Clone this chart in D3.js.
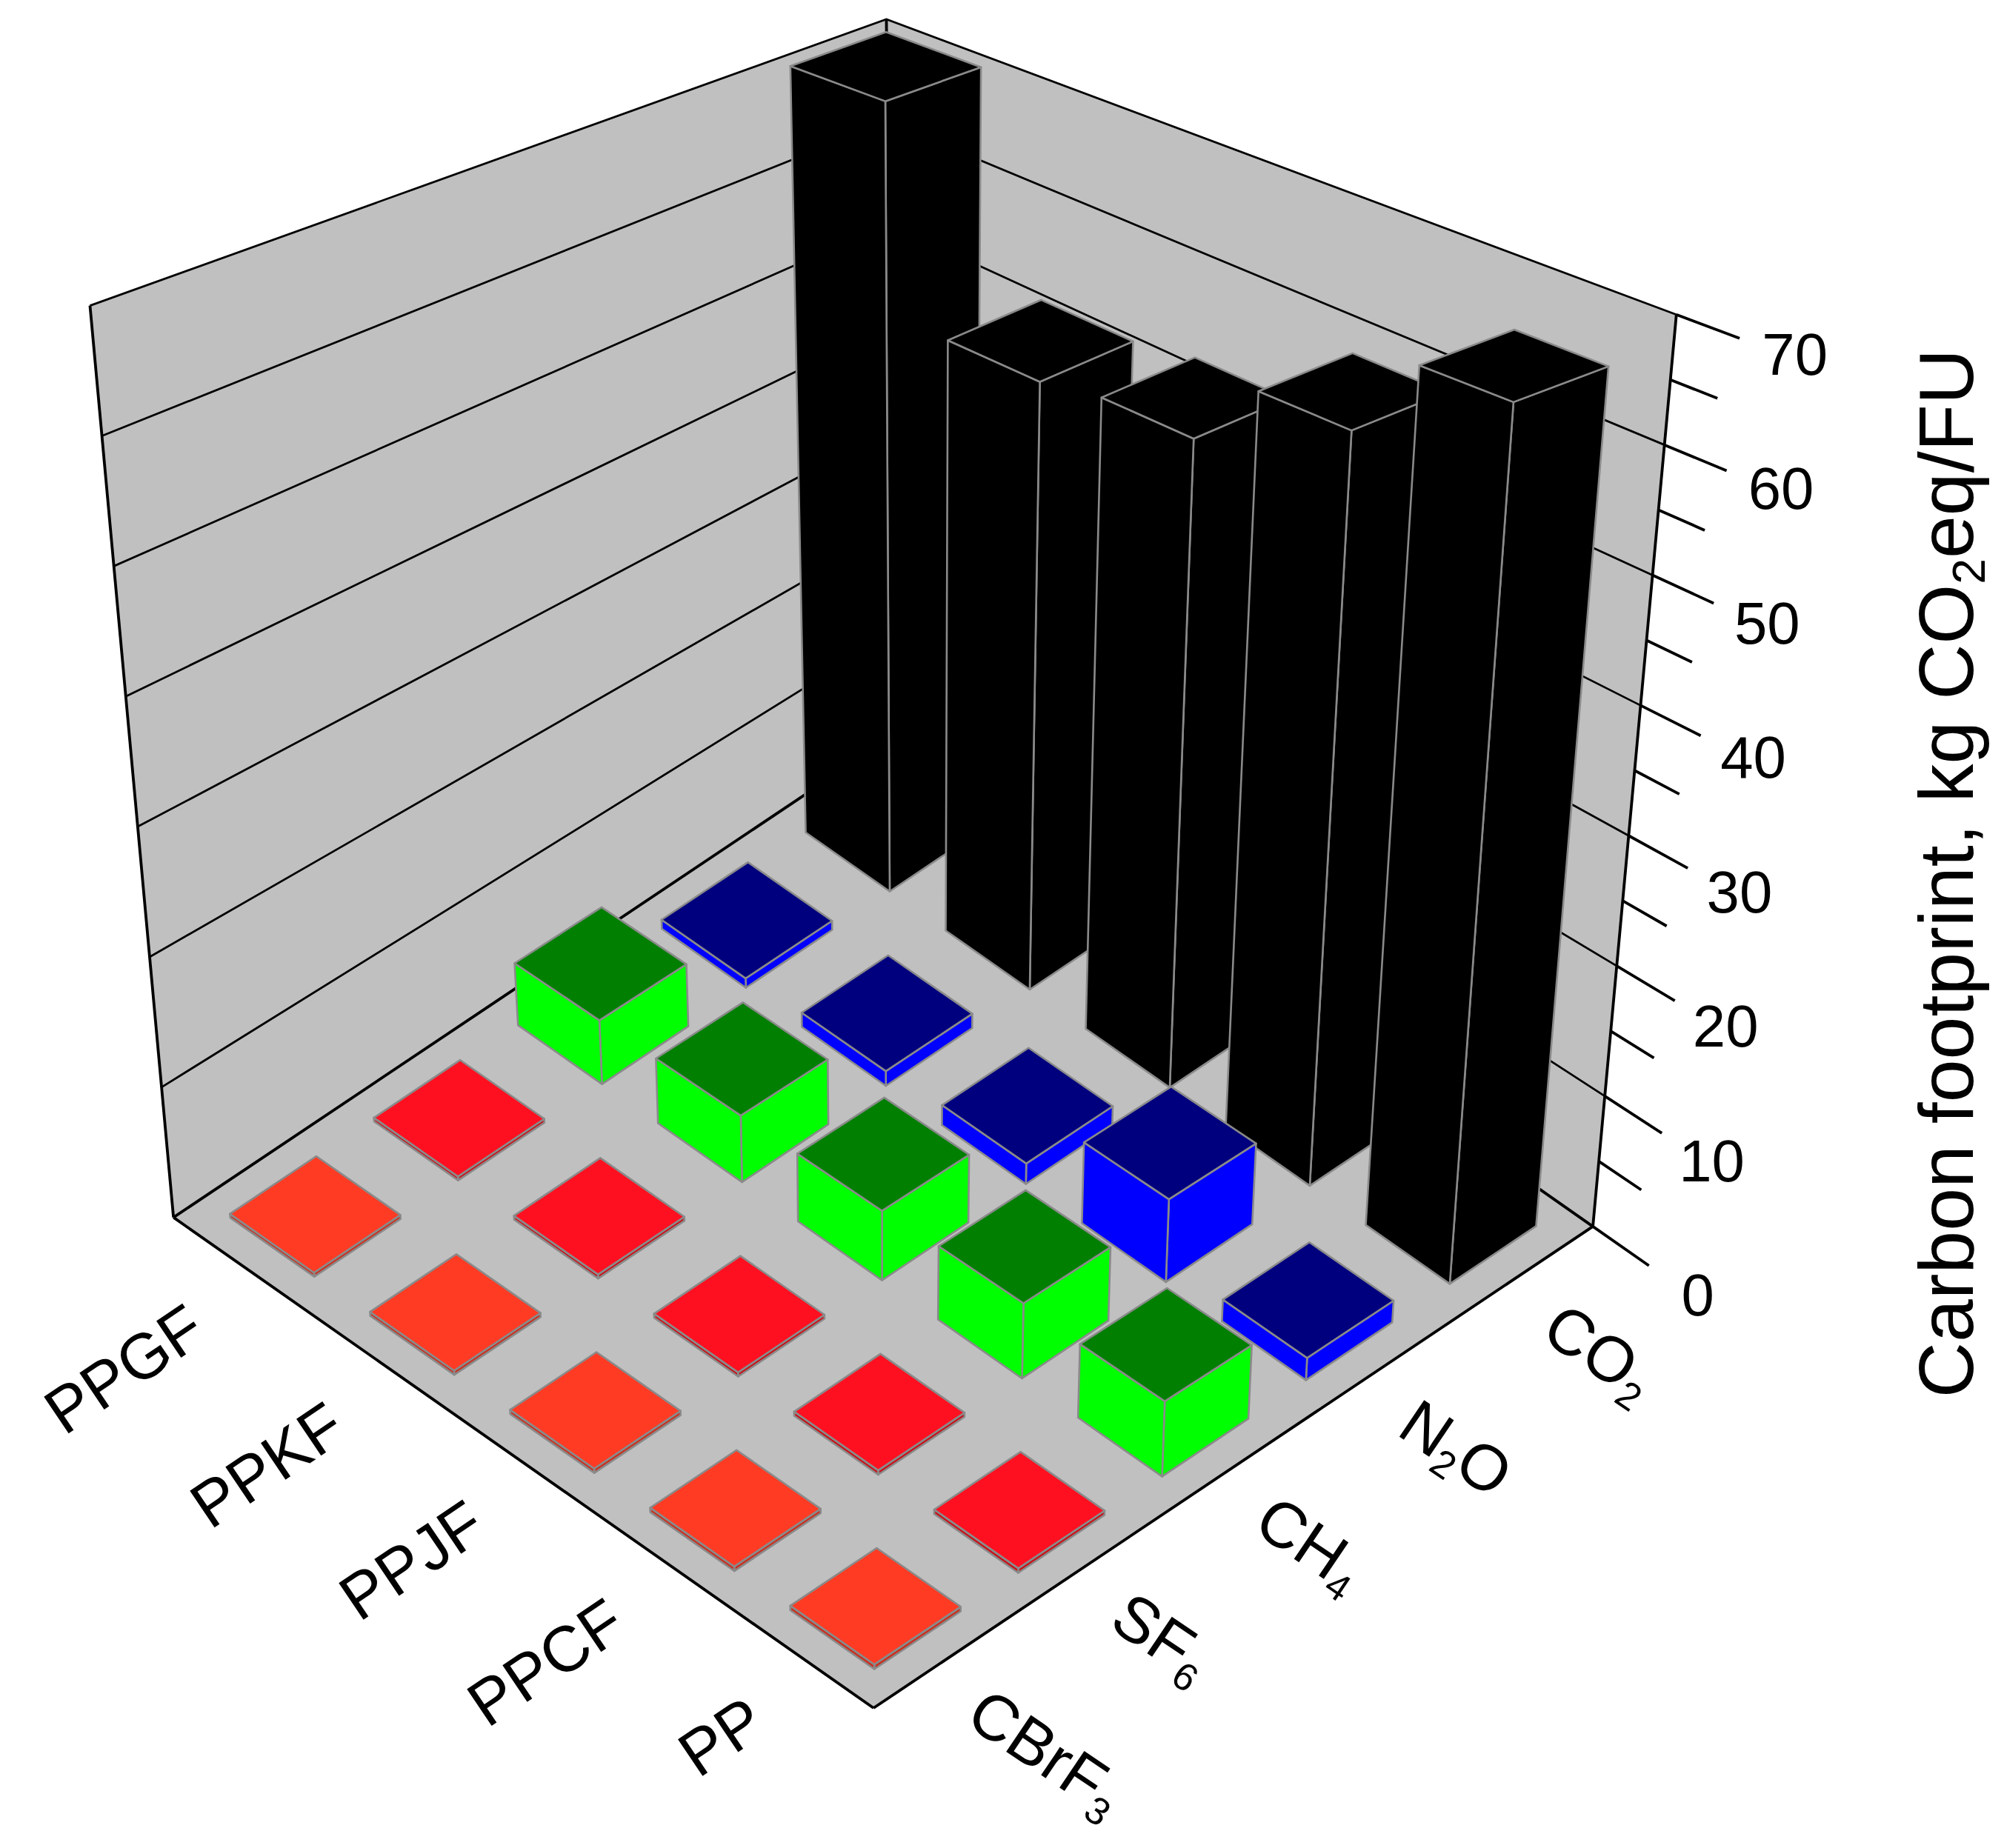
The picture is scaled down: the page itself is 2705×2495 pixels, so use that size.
<!DOCTYPE html>
<html><head><meta charset="utf-8">
<script src="https://cdn.jsdelivr.net/npm/d3@7"></script>
<style>body{margin:0;background:#fff}</style>
</head><body><div></div>
<script>
const materials = ["PPGF", "PPKF", "PPJF", "PPCF", "PP"];
const gases = [["CBrF", "3"], ["SF", "6"], ["CH", "4"], ["N", "2", "O"], ["CO", "2"]];
const cbrf3 = [0.3, 0.3, 0.3, 0.3, 0.3];
const sf6 = [0.3, 0.3, 0.3, 0.3, 0.3];
const ch4 = [5.2, 5.2, 5.2, 5.4, 5.2];
const n2o = [0.8, 1.2, 1.6, 6.2, 1.6];
const co2 = [71, 52, 53, 59, 66];
const series = [cbrf3, sf6, ch4, n2o, co2];
const zTicks = [0, 10, 20, 30, 40, 50, 60, 70];
const topCol = ["#ff3b24", "#ff1020", "#007f00", "#00007f", "#000000"];
const sideCol = ["#c83020", "#c81018", "#00ff00", "#0000ff", "#000000"];

const w = 1560, h = 1439;
const svg = d3.select("div").append("svg")
  .attr("width", 2705).attr("height", 2495).attr("viewBox", `0 0 ${w} ${h}`)
  .style("font-family", "Liberation Sans, Arial, sans-serif");

// box corners (bottom / top)
const L = [135, 948], F = [680, 1330], R = [1240, 955], B = [695, 573];
const Lt = [70, 238], Bt = [690, 15], Rt = [1305, 245];
const Ft = [Lt[0] + Rt[0] - Bt[0], Lt[1] + Rt[1] - Bt[1]];
const z = d3.scaleLinear().domain([0, 70]).range([0, 1]);
const mS = d3.scaleBand().domain(materials).range([0, 1]);
const qS = d3.scaleBand().domain(d3.range(5)).range([0, 1]);

function bil(a, b, c, d, m, q) {
  return [0, 1].map(k => a[k] * (1 - m) * (1 - q) + b[k] * m * (1 - q) + c[k] * m * q + d[k] * (1 - m) * q);
}
function proj(m, q, v) {
  const t = z(v), p0 = bil(L, F, R, B, m, q), p1 = bil(Lt, Ft, Rt, Bt, m, q);
  return [p0[0] + t * (p1[0] - p0[0]), p0[1] + t * (p1[1] - p0[1])];
}
const poly = pts => "M" + pts.map(p => p.join(",")).join("L") + "Z";

// walls and floor
svg.append("path").attr("d", poly([L, B, Bt, Lt])).attr("fill", "#c0c0c0");
svg.append("path").attr("d", poly([B, R, Rt, Bt])).attr("fill", "#c0c0c0");
svg.append("path").attr("d", poly([L, F, R, B])).attr("fill", "#c0c0c0");
zTicks.slice(1).forEach(v => {
  svg.append("path").attr("d", "M" + [proj(0, 0, v), proj(0, 1, v), proj(1, 1, v)].map(p => p.join(",")).join("L"))
    .attr("fill", "none").attr("stroke", "#000").attr("stroke-width", 1.6);
});
const line = (a, b) => svg.append("line").attr("x1", a[0]).attr("y1", a[1]).attr("x2", b[0]).attr("y2", b[1])
  .attr("stroke", "#000").attr("stroke-width", 2.2);
line(L, Lt); line(B, Bt); line(R, Rt); line(L, F); line(F, R);
line(L, B); line(B, R);

// z axis ticks on the right edge
d3.range(0, 71, 5).forEach(v => {
  const major = v % 10 === 0;
  line(proj(1, 1, v), proj(major ? 1.08 : 1.06, 1, v));
  if (major) {
    const p = proj(1.15, 1, v);
    svg.append("text").attr("x", p[0]).attr("y", p[1]).attr("text-anchor", "middle")
      .attr("dominant-baseline", "middle").attr("font-size", 46).text(v);
  }
});

// bars, back to front
const hw = 0.06;
const bars = [];
series.forEach((vals, g) => vals.forEach((v, i) => bars.push({ g, i, v })));
bars.forEach(d => { d.m = mS(materials[d.i]) + mS.bandwidth() / 2; d.q = qS(d.g) + qS.bandwidth() / 2; });
bars.sort((a, b) => (a.m - a.q) - (b.m - b.q));
bars.forEach(d => {
  const m0 = d.m - hw, m1 = d.m + hw, q0 = d.q - hw, q1 = d.q + hw, v = d.v;
  const faces = [
    [[[m1, q0, 0], [m1, q1, 0], [m1, q1, v], [m1, q0, v]], sideCol[d.g]],
    [[[m0, q0, 0], [m1, q0, 0], [m1, q0, v], [m0, q0, v]], sideCol[d.g]],
    [[[m0, q0, v], [m1, q0, v], [m1, q1, v], [m0, q1, v]], topCol[d.g]]
  ];
  faces.forEach(([pts, c]) => {
    svg.append("path").attr("d", poly(pts.map(p => proj(...p))))
      .attr("fill", c).attr("stroke", "#8a8a8a").attr("stroke-width", 1.5).attr("stroke-linejoin", "round");
  });
});

// material labels
materials.forEach(mt => {
  const p = proj(mS(mt) + mS.bandwidth() / 2 + 0.03, -0.09, 0);
  svg.append("text").attr("transform", `translate(${p[0]},${p[1]}) rotate(-34)`)
    .attr("text-anchor", "end").attr("dominant-baseline", "middle").attr("font-size", 50).text(mt);
});
// gas labels
gases.forEach((gs, g) => {
  const p = proj(1.07, qS(g) + qS.bandwidth() / 2 - 0.03, 0);
  const t = svg.append("text").attr("transform", `translate(${p[0]},${p[1]}) rotate(34)`)
    .attr("dominant-baseline", "middle").attr("font-size", 50);
  t.append("tspan").text(gs[0]);
  t.append("tspan").attr("font-size", 30).attr("dy", 14).text(gs[1]);
  if (gs[2]) t.append("tspan").attr("dy", -14).text(gs[2]);
});
// axis title
const tt = svg.append("text").attr("transform", "translate(1520,680) rotate(-90)")
  .attr("text-anchor", "middle").attr("dominant-baseline", "middle").attr("font-size", 60);
tt.append("tspan").text("Carbon footprint, kg CO");
tt.append("tspan").attr("font-size", 36).attr("dy", 16).text("2");
tt.append("tspan").attr("dy", -16).text("eq/FU");
</script></body></html>
